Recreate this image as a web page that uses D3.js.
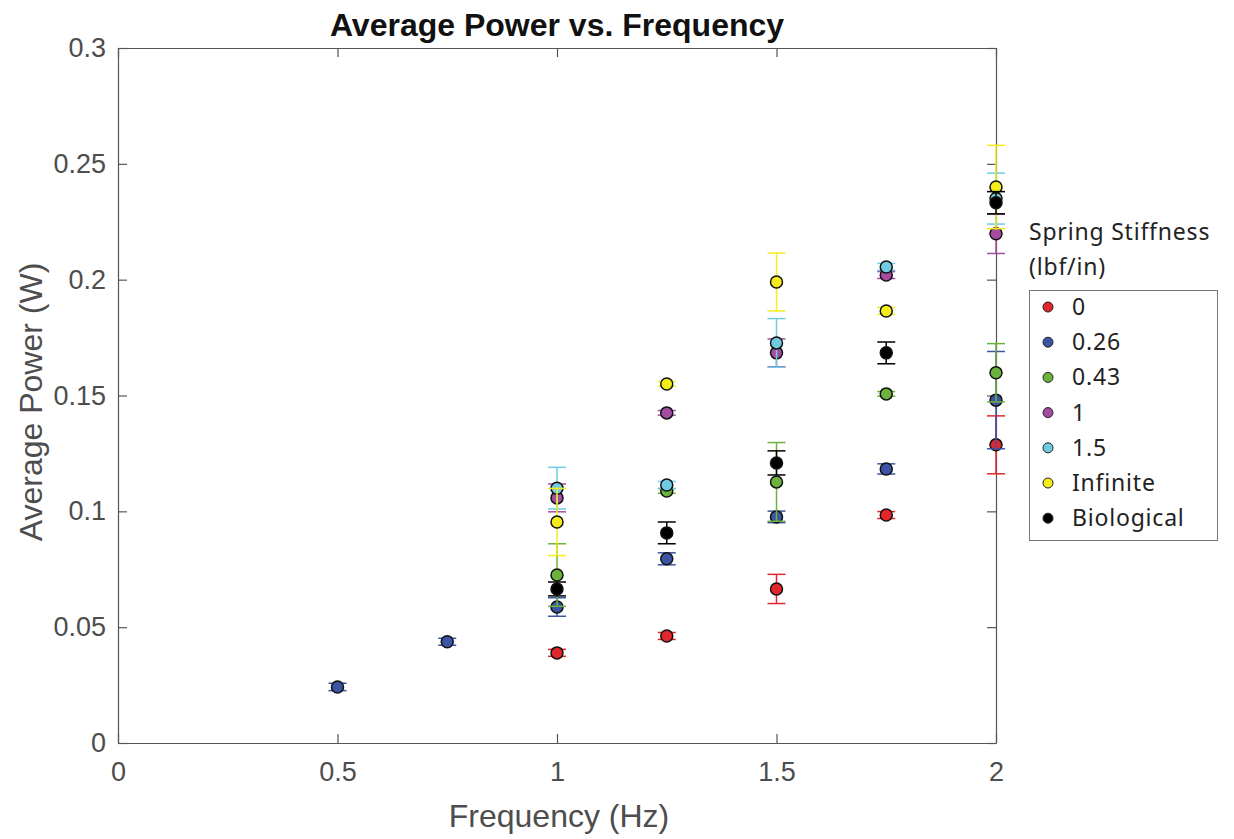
<!DOCTYPE html>
<html>
<head>
<meta charset="utf-8">
<title>Average Power vs. Frequency</title>
<script src="https://d3js.org/d3.v7.min.js"></script>
<style>
  body { margin: 0; background: #fff; }
  svg { display: block; }
  .tick text { font-family: "Liberation Sans", Arial, sans-serif; font-size: 27px; fill: #4d4d4d; }
  .axis-label { font-family: "Liberation Sans", Arial, sans-serif; font-size: 32px; fill: #4d4d4d; }
  .title { font-family: "Liberation Sans", Arial, sans-serif; font-size: 32px; font-weight: bold; fill: #111; }
  .legend text { font-family: "Noto Sans", sans-serif; font-size: 23px; letter-spacing: 0.8px; fill: #222; }
</style>
</head>
<body>
<svg width="1234" height="839"></svg>
<script>
// frequencies (Hz)
const freqs = [0.5, 0.75, 1, 1.25, 1.5, 1.75, 2];
const seriesNames = ["0", "0.26", "0.43", "1", "1.5", "Infinite", "Biological"];
const seriesColors = ["#e3262b", "#3b55a4", "#6cb33e", "#a54ca1", "#6fcbe1", "#f5ec1a", "#000000"];

// average power (W), null = not measured
const power0    = [null, null, 0.0389, 0.0462, 0.0665, 0.0984, 0.1287];
const power026  = [0.0242, 0.0437, 0.0587, 0.0795, 0.0976, 0.1183, 0.1480];
const power043  = [null, null, 0.0725, 0.1088, 0.1127, 0.1507, 0.1598];
const power1    = [null, null, 0.1058, 0.1425, 0.1684, 0.2020, 0.2198];
const power15   = [null, null, 0.1100, 0.1114, 0.1727, 0.2055, 0.2350];
const powerInf  = [null, null, 0.0954, 0.1550, 0.1990, 0.1865, 0.2400];
const powerBio  = [null, null, 0.0665, 0.0907, 0.1209, 0.1684, 0.2332];

// error bar half-lengths
const err0    = [null, null, 0.0015, 0.0015, 0.0063, 0.0015, 0.0125];
const err026  = [0.0016, 0.0015, 0.0040, 0.0026, 0.0025, 0.0022, 0.0210];
const err043  = [null, null, 0.0135, 0.0010, 0.0170, 0.0010, 0.0126];
const err1    = [null, null, 0.0060, 0.0010, 0.0060, 0.0015, 0.0085];
const err15   = [null, null, 0.0090, 0.0015, 0.0105, 0.0015, 0.0110];
const errInf  = [null, null, 0.0145, 0.0010, 0.0125, 0.0015, 0.0180];
const errBio  = [null, null, 0.0030, 0.0047, 0.0052, 0.0047, 0.0048];

const powers = [power0, power026, power043, power1, power15, powerInf, powerBio];
const errs = [err0, err026, err043, err1, err15, errInf, errBio];

const xTicks = [0, 0.5, 1, 1.5, 2];
const yTicks = [0, 0.05, 0.1, 0.15, 0.2, 0.25, 0.3];

const margin = { top: 48, right: 238, bottom: 96, left: 118 };
const width = 1234 - margin.left - margin.right;
const height = 839 - margin.top - margin.bottom;

const svg = d3.select("svg");
const g = svg.append("g").attr("transform", `translate(${margin.left},${margin.top})`);

const x = d3.scaleLinear().domain([0, 2]).range([0, width]);
const y = d3.scaleLinear().domain([0, 0.3]).range([height, 0]);

const axisColor = "#555";

// axes with inward ticks on all four sides
function styleAxis(sel) {
  sel.select(".domain").attr("stroke", axisColor).attr("stroke-width", 1.2);
  sel.selectAll(".tick line").attr("stroke", axisColor).attr("stroke-width", 1.2);
}
g.append("g").attr("transform", `translate(0,${height})`)
  .call(d3.axisBottom(x).tickValues(xTicks).tickFormat(d3.format("")).tickSizeInner(-9).tickSizeOuter(0).tickPadding(19))
  .call(styleAxis);
g.append("g")
  .call(d3.axisTop(x).tickValues(xTicks).tickFormat("").tickSizeInner(-9).tickSizeOuter(0))
  .call(styleAxis);
g.append("g")
  .call(d3.axisLeft(y).tickValues(yTicks).tickFormat(d3.format("")).tickSizeInner(-9).tickSizeOuter(0).tickPadding(12))
  .call(styleAxis);
g.append("g").attr("transform", `translate(${width},0)`)
  .call(d3.axisRight(y).tickValues(yTicks).tickFormat("").tickSizeInner(-9).tickSizeOuter(0))
  .call(styleAxis);

// series: error bars + markers
const cap = 9;
powers.forEach((vals, si) => {
  const pts = freqs.map((f, i) => ({ f, v: vals[i], e: errs[si][i] })).filter(d => d.v != null);
  const sg = g.append("g");
  const eb = sg.selectAll("g.eb").data(pts).enter().append("g")
    .attr("stroke", seriesColors[si]).attr("stroke-width", 1.5);
  eb.append("line")
    .attr("x1", d => x(d.f)).attr("x2", d => x(d.f))
    .attr("y1", d => y(d.v + d.e)).attr("y2", d => y(d.v - d.e));
  eb.append("line")
    .attr("x1", d => x(d.f) - cap).attr("x2", d => x(d.f) + cap)
    .attr("y1", d => y(d.v + d.e)).attr("y2", d => y(d.v + d.e));
  eb.append("line")
    .attr("x1", d => x(d.f) - cap).attr("x2", d => x(d.f) + cap)
    .attr("y1", d => y(d.v - d.e)).attr("y2", d => y(d.v - d.e));
  sg.selectAll("circle").data(pts).enter().append("circle")
    .attr("cx", d => x(d.f)).attr("cy", d => y(d.v)).attr("r", 6)
    .attr("fill", seriesColors[si]).attr("stroke", "#111").attr("stroke-width", 1.5);
});

// title and axis labels
svg.append("text").attr("class", "title")
  .attr("x", 557).attr("y", 36).attr("text-anchor", "middle")
  .text("Average Power vs. Frequency");
svg.append("text").attr("class", "axis-label")
  .attr("x", 559).attr("y", 827).attr("text-anchor", "middle")
  .text("Frequency (Hz)");
svg.append("text").attr("class", "axis-label")
  .attr("transform", `translate(42,402) rotate(-90)`)
  .attr("text-anchor", "middle")
  .text("Average Power (W)");

// legend
const legend = svg.append("g").attr("class", "legend");
legend.append("text").attr("x", 1029).attr("y", 240).text("Spring Stiffness");
legend.append("text").attr("x", 1029).attr("y", 275).text("(lbf/in)");
legend.append("rect").attr("x", 1029.5).attr("y", 290.5).attr("width", 188).attr("height", 250)
  .attr("fill", "#fff").attr("stroke", "#777").attr("stroke-width", 1);
seriesNames.forEach((name, i) => {
  const ly = 307 + i * 35.2;
  legend.append("circle").attr("cx", 1048).attr("cy", ly).attr("r", 5)
    .attr("fill", seriesColors[i]).attr("stroke", "#222").attr("stroke-width", 1);
  legend.append("text").attr("x", 1072).attr("y", ly + 8).text(name);
});
</script>
</body>
</html>
